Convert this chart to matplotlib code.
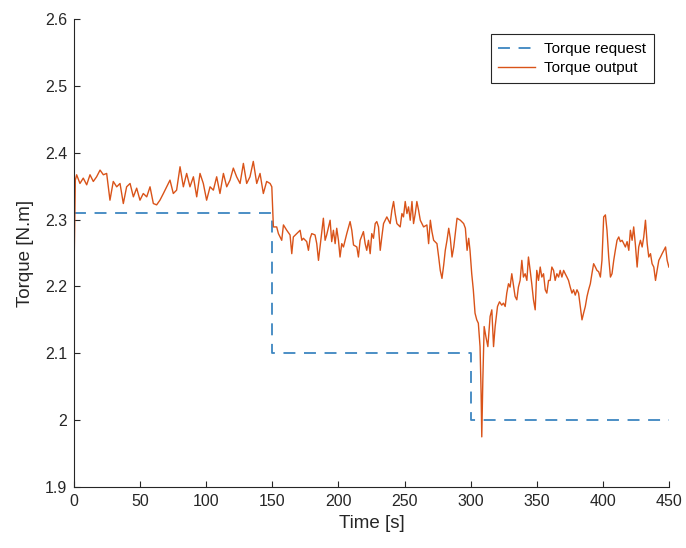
import matplotlib
matplotlib.use("Agg")
import matplotlib.pyplot as plt
import numpy as np

# ---- data ----
request_time = [0, 150, 150, 300, 300, 450]
request_torque = [2.31, 2.31, 2.1, 2.1, 2.0, 2.0]

time_a = [0, 1, 2, 4.5, 7, 9.6, 12.1, 14.6, 17.1, 19.7, 22.2, 24.7, 27.2, 29.7, 32.3, 34.8,
          37.3, 39.8, 42.4, 44.9, 47.4, 49.9, 52.4, 55.0, 57.5, 60.0, 62.5, 65.0, 67.6, 70.1,
          72.6, 75.1, 77.6, 80.2, 82.7, 85.2, 87.7, 90.3, 92.8, 95.3, 97.8, 100.3, 102.9, 105.4,
          107.9, 110.4, 113.0, 115.5, 118.0, 120.5, 123.0, 125.6, 128.1, 130.6, 133.1, 135.6,
          138.2, 140.7, 143.2, 145.7, 148.3, 149.6]
torque_a = [2.22, 2.359, 2.367, 2.354, 2.362, 2.352, 2.367, 2.357, 2.364, 2.374, 2.367, 2.369,
            2.329, 2.357, 2.349, 2.354, 2.324, 2.349, 2.354, 2.334, 2.347, 2.329, 2.339, 2.334,
            2.349, 2.324, 2.322, 2.329, 2.339, 2.349, 2.359, 2.339, 2.344, 2.379, 2.349, 2.369,
            2.349, 2.364, 2.334, 2.369, 2.354, 2.329, 2.349, 2.344, 2.364, 2.339, 2.369, 2.349,
            2.359, 2.377, 2.364, 2.354, 2.384, 2.354, 2.364, 2.387, 2.354, 2.369, 2.339, 2.357,
            2.354, 2.349]

time_b = [150.8, 153.3, 154.6, 157.1, 158.4, 160.9, 163.4, 164.7, 165.9, 168.5, 171.0, 172.3,
          173.5, 176.0, 177.3, 178.6, 179.8, 182.3, 183.6, 184.9, 186.1, 188.6, 189.9, 191.1,
          193.7, 194.9, 196.2, 197.5, 198.7, 200.0, 201.2, 202.5, 203.8, 206.3, 208.8, 210.1,
          211.4, 213.9, 215.1, 216.4, 218.9, 220.2, 221.4, 222.7, 224.0, 225.2, 226.5, 227.8,
          229.0, 230.3, 231.6, 232.8, 234.1, 236.6, 239.1, 240.4, 241.7, 242.9, 244.2, 246.7,
          248.0, 249.2, 250.5, 251.8, 253.0, 254.3, 255.6, 256.8, 258.1, 259.3, 260.6, 261.9,
          264.4, 266.9, 268.2, 269.5, 270.7, 272.0, 274.5, 275.8, 277.0, 278.3, 279.6, 280.8,
          282.1, 283.4, 284.6, 285.9, 287.2, 288.4, 289.7, 292.2, 294.7, 296.0, 297.3, 298.5]
torque_b = [2.289, 2.289, 2.279, 2.269, 2.292, 2.284, 2.277, 2.249, 2.274, 2.279, 2.284, 2.269,
            2.272, 2.267, 2.254, 2.272, 2.279, 2.277, 2.264, 2.239, 2.259, 2.302, 2.269, 2.277,
            2.299, 2.267, 2.284, 2.264, 2.287, 2.269, 2.244, 2.264, 2.259, 2.279, 2.297, 2.284,
            2.262, 2.259, 2.244, 2.269, 2.282, 2.264, 2.254, 2.269, 2.249, 2.279, 2.272, 2.294,
            2.297, 2.289, 2.254, 2.274, 2.294, 2.304, 2.294, 2.314, 2.327, 2.309, 2.294, 2.289,
            2.309, 2.304, 2.327, 2.309, 2.319, 2.299, 2.327, 2.294, 2.309, 2.327, 2.314, 2.299,
            2.289, 2.292, 2.264, 2.299, 2.282, 2.269, 2.264, 2.244, 2.224, 2.212, 2.232, 2.254,
            2.269, 2.287, 2.272, 2.244, 2.259, 2.279, 2.302, 2.299, 2.294, 2.287, 2.254, 2.272]

time_c = [299.5, 300.8, 302.0, 303.3, 304.6, 305.8, 307.1, 307.9, 308.4, 309.2, 310.2, 311.5,
          313.0, 314.7, 316.0, 317.3, 318.5, 320.3, 321.8, 323.5, 324.8, 326.1, 327.3, 328.6,
          329.8, 331.1, 333.6, 334.9, 336.1, 337.4, 338.7, 339.9, 341.2, 342.5, 343.7, 345.0,
          346.2, 347.5, 348.8, 350.0, 351.3, 352.6, 353.8, 355.1, 356.4, 357.6, 358.9, 360.1,
          361.4, 362.7, 363.9, 365.2, 366.5, 367.7, 369.0, 370.3, 371.5, 372.8, 374.0, 375.3,
          376.6, 377.8, 379.1, 380.4, 381.6, 382.9, 384.2, 385.4, 386.7, 388.0, 389.2, 390.5,
          391.7, 393.0, 394.3, 395.5, 396.8, 398.1, 399.3, 400.6, 401.9, 403.1, 404.4, 405.7,
          406.9, 408.2, 409.4, 410.7, 412.0, 413.2, 414.5, 415.8, 417.0, 418.3, 419.6, 420.8,
          422.1, 423.3, 424.6, 425.9, 427.1, 428.4, 429.7, 430.9, 432.2, 433.5, 434.7, 436.0,
          437.2, 438.5, 439.8, 441.0, 442.3, 443.6, 444.8, 446.1, 447.4, 448.6, 449.9]
torque_c = [2.254, 2.219, 2.195, 2.160, 2.150, 2.145, 2.110, 2.040, 1.975, 2.060, 2.140, 2.125,
            2.110, 2.155, 2.165, 2.110, 2.140, 2.170, 2.177, 2.172, 2.175, 2.170, 2.190, 2.204,
            2.199, 2.219, 2.185, 2.180, 2.199, 2.209, 2.239, 2.214, 2.219, 2.209, 2.244, 2.224,
            2.204, 2.180, 2.165, 2.224, 2.209, 2.229, 2.214, 2.219, 2.195, 2.190, 2.209, 2.209,
            2.229, 2.224, 2.209, 2.219, 2.214, 2.224, 2.214, 2.224, 2.219, 2.214, 2.209, 2.199,
            2.190, 2.195, 2.187, 2.195, 2.190, 2.170, 2.150, 2.160, 2.170, 2.185, 2.195, 2.204,
            2.219, 2.234, 2.229, 2.224, 2.222, 2.214, 2.239, 2.304, 2.307, 2.284, 2.244, 2.214,
            2.219, 2.239, 2.254, 2.269, 2.274, 2.267, 2.269, 2.264, 2.259, 2.267, 2.254, 2.284,
            2.269, 2.289, 2.262, 2.229, 2.259, 2.269, 2.259, 2.274, 2.299, 2.264, 2.244, 2.249,
            2.234, 2.229, 2.209, 2.224, 2.239, 2.244, 2.249, 2.254, 2.259, 2.239, 2.229]

x_ticks = [0, 50, 100, 150, 200, 250, 300, 350, 400, 450]
y_ticks = [1.9, 2.0, 2.1, 2.2, 2.3, 2.4, 2.5, 2.6]
y_tick_labels = ["1.9", "2", "2.1", "2.2", "2.3", "2.4", "2.5", "2.6"]

output_time = time_a + time_b + time_c
output_torque = torque_a + torque_b + torque_c
assert len(output_time) == len(output_torque), (len(time_a), len(torque_a), len(time_b), len(torque_b), len(time_c), len(torque_c))

# ---- plot ----
plt.rcParams['font.family'] = ['Liberation Sans', 'DejaVu Sans']
fig = plt.figure(figsize=(6.86, 5.48), dpi=100)
ax = fig.add_axes([74/686, 61/548, 595/686, 468/548])

blue = '#3d86c0'
orange = '#d95319'
lw_req = 1.3
ax.plot(request_time, request_torque, color=blue, lw=lw_req,
        ls=(0, (8.6/lw_req, 6.2/lw_req)), label='Torque request')
ax.plot(output_time, output_torque, color=orange, lw=1.0, label='Torque output')

ax.set_xlim(0, 450)
ax.set_ylim(1.9, 2.6)
ax.set_xticks(x_ticks)
ax.set_xticklabels([str(v) for v in x_ticks])
ax.set_yticks(y_ticks)
ax.set_yticklabels(y_tick_labels)

for s in ['top', 'right']:
    ax.spines[s].set_visible(False)
for s in ['left', 'bottom']:
    ax.spines[s].set_color('#262626')
    ax.spines[s].set_linewidth(0.8)
ax.tick_params(direction='in', length=4, width=0.8, colors='#262626',
               labelsize=11.5, pad=5)

ax.set_xlabel('Time [s]', fontsize=13.5, color='#262626', labelpad=4)
ax.set_ylabel('Torque [N.m]', fontsize=13.5, color='#262626', labelpad=8)

leg = ax.legend(loc='upper right', fontsize=11, frameon=True, fancybox=False,
                edgecolor='#262626', framealpha=1, handlelength=2.4,
                handletextpad=0.6, labelspacing=0.35, borderaxespad=1.0,
                borderpad=0.5)
leg.get_frame().set_linewidth(0.8)

fig.savefig('out.png', dpi=100, facecolor='white')
